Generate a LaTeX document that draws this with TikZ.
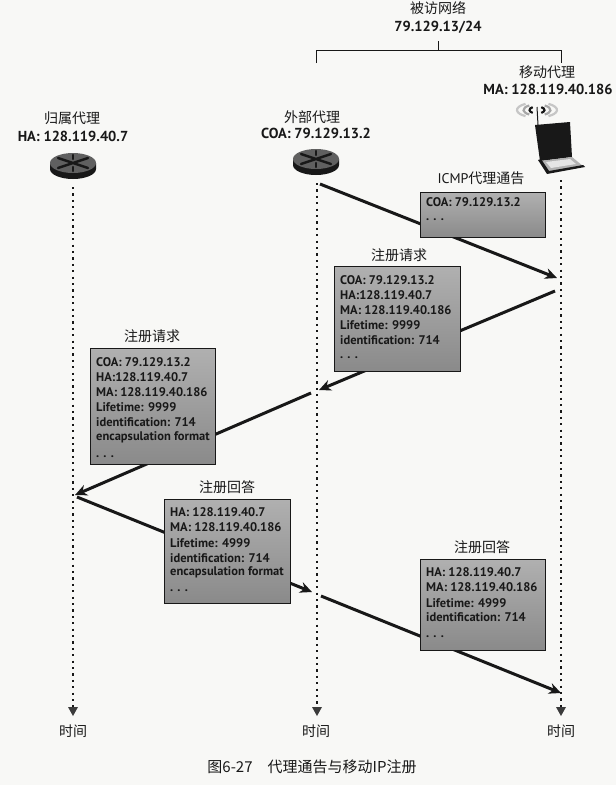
\documentclass[tikz,border=0pt]{standalone}
\usepackage{fontspec}
\setmainfont{PT Sans}
\newfontfamily\cjk{Noto Sans CJK SC}
\usetikzlibrary{arrows.meta,shapes.geometric}
\definecolor{paper}{HTML}{F8F8F6}
\definecolor{ink}{HTML}{181818}
\tikzset{
  x=1pt,y=-1pt,
  lbl/.style={font=\cjk\fontsize{14}{16}\selectfont,text=ink,inner sep=0pt,anchor=center},
  addr/.style={font=\bfseries\fontsize{14.5}{16}\selectfont,text=ink,inner sep=0pt,anchor=center},
  pkt/.style={draw=ink,line width=1.2pt,top color=gray!62,bottom color=gray!92,inner sep=0pt,anchor=north west},
  pkttext/.style={font=\bfseries\fontsize{12.5}{14}\selectfont,text=ink,inner sep=0pt,anchor=west},
  msg/.style={draw=ink,line width=3pt,-{Stealth[length=12pt,width=11pt]}},
  life/.style={draw=ink,line width=2.2pt,dash pattern=on 2.2pt off 4.2pt},
  lifetip/.style={fill=ink!85,draw=none},
  routerpic/.pic={
    \fill[ink] (-23,-3) -- (-23,3) arc[x radius=23,y radius=10,start angle=180,end angle=0] -- (23,-3) -- cycle;
    \fill[gray!75!black] (0,-3) ellipse[x radius=23,y radius=10];
    \draw[ink,line width=2.4pt,line cap=round] (-15,-8) -- (15,2) (-15,2) -- (15,-8);
    \draw[ink,line width=2.4pt,line cap=round] (0,-11) -- (0,-7) (0,1) -- (0,5);
  },
}
\begin{document}
\begin{tikzpicture}
\useasboundingbox[fill=paper] (0,0) rectangle (616,785);

% --- anchors
\coordinate (r1) at (73,166);
\coordinate (r2) at (316,162);
\coordinate (L1s) at (73,187);  \coordinate (L1e) at (73,716);
\coordinate (L2s) at (317,183); \coordinate (L2e) at (317,716);
\coordinate (L3s) at (561,180); \coordinate (L3e) at (561,716);
\coordinate (a1s) at (320,184); \coordinate (a1e) at (557,278);
\coordinate (a2s) at (555,291); \coordinate (a2e) at (319,390);
\coordinate (a3s) at (311,393); \coordinate (a3e) at (75,495);
\coordinate (a4s) at (77,497);  \coordinate (a4e) at (312,592);
\coordinate (a5s) at (321,596); \coordinate (a5e) at (561,693);
\coordinate (brL) at (316,63);  \coordinate (brR) at (561,63);
\coordinate (brC) at (438,50);  \coordinate (brT) at (438,41);

% --- network bracket
\draw[ink,line width=0.9pt] (brL) -- (brL |- brC) -- (brR |- brC) -- (brR);
\draw[ink,line width=0.9pt] (brC) -- (brT);
\node[lbl] (vnet) at (438,8) {被访网络};
\node[addr] (vnetaddr) at (438,27) {79.129.13/24};

% --- lifelines
\foreach \n in {1,2,3}{
  \draw[life] (L\n s) -- ([shift={(0,-9)}]L\n e);
  \fill[lifetip] ([shift={(-5,-9)}]L\n e) -- ([shift={(5,-9)}]L\n e) -- (L\n e) -- cycle;
}

% --- messages (under the packets)
\draw[msg] (a1s) -- (a1e);
\draw[msg] (a2s) -- (a2e);
\draw[msg] (a3s) -- (a3e);
\draw[msg] (a4s) -- (a4e);
\draw[msg] (a5s) -- (a5e);

% --- agents
\pic at (r1) {routerpic};
\pic at (r2) {routerpic};
\node[lbl] (hat) at (72,118) {归属代理};
\node[addr] (haa) at (73,136) {HA: 128.119.40.7};
\node[lbl] (fat) at (312,117) {外部代理};
\node[addr] (faa) at (316,133) {COA: 79.129.13.2};
\node[lbl] (mat) at (547,72) {移动代理};
\node[addr] (maa) at (548,89) {MA: 128.119.40.186};

% --- laptop
\fill[ink] (535,125) -- (570,122) -- (572,157) -- (540,161) -- cycle;
\fill[gray!60] (540,161) -- (572,157) -- (583,166) -- (549,172) -- cycle;
\fill[ink] (538,160) -- (547,174) -- (585,167) -- (583,165) -- (549,171) -- (541,159) -- cycle;
\fill[gray!20] (546,162) -- (570,159) -- (576,164) -- (551,168) -- cycle;
\foreach \a/\b/\g in {20/7.5/gray!45,13.5/5.5/gray!70,7.5/3.5/ink}{
  \draw[\g,line width=2.2pt] (537,110) ++({\a*cos(235)},{\b*sin(235)}) arc[x radius=\a,y radius=\b,start angle=235,end angle=125];
  \draw[\g,line width=2.2pt] (537,110) ++({\a*cos(55)},{-\b*sin(55)}) arc[x radius=\a,y radius=\b,start angle=-55,end angle=55];
}
\draw[ink,line width=1pt] (538,125) -- (537,107);

% --- packets
\node[lbl] (t1) at (481,178) {\normalfont\fontsize{14}{16}\selectfont ICMP\cjk 代理通告};
\node[pkt,minimum width=125pt,minimum height=45pt] (p1) at (420,192) {};
\node[pkttext] at (426,202) {COA: 79.129.13.2};
\node[pkttext] at (426,220) {. . .};

\node[lbl] (t2) at (399,255) {注册请求};
\node[pkt,minimum width=126pt,minimum height=105pt] (p2) at (334,266) {};
\node[pkttext] at (340,280) {COA: 79.129.13.2};
\node[pkttext] at (340,295) {HA:128.119.40.7};
\node[pkttext] at (340,310) {MA: 128.119.40.186};
\node[pkttext] at (340,325) {Lifetime: 9999};
\node[pkttext] at (340,340) {identification: 714};
\node[pkttext] at (340,358) {. . .};

\node[lbl] (t3) at (152,336) {注册请求};
\node[pkt,minimum width=125pt,minimum height=116pt] (p3) at (90,348) {};
\node[pkttext] at (96,362) {COA: 79.129.13.2};
\node[pkttext] at (96,377) {HA:128.119.40.7};
\node[pkttext] at (96,392) {MA: 128.119.40.186};
\node[pkttext] at (96,407) {Lifetime: 9999};
\node[pkttext] at (96,422) {identification: 714};
\node[pkttext] at (96,437) {encapsulation format};
\node[pkttext] at (96,457) {. . .};

\node[lbl] (t4) at (227,487) {注册回答};
\node[pkt,minimum width=126pt,minimum height=104pt] (p4) at (164,499) {};
\node[pkttext] at (170,512) {HA: 128.119.40.7};
\node[pkttext] at (170,527) {MA: 128.119.40.186};
\node[pkttext] at (170,543) {Lifetime: 4999};
\node[pkttext] at (170,558) {identification: 714};
\node[pkttext] at (170,572) {encapsulation format};
\node[pkttext] at (170,591) {. . .};

\node[lbl] (t5) at (482,547) {注册回答};
\node[pkt,minimum width=125pt,minimum height=91pt] (p5) at (420,559) {};
\node[pkttext] at (426,572) {HA: 128.119.40.7};
\node[pkttext] at (426,587) {MA: 128.119.40.186};
\node[pkttext] at (426,603) {Lifetime: 4999};
\node[pkttext] at (426,617) {identification: 714};
\node[pkttext] at (426,637) {. . .};

% --- time labels and caption
\node[lbl] (s1) at (73,731) {时间};
\node[lbl] (s2) at (316,731) {时间};
\node[lbl] (s3) at (561,731) {时间};
\node[lbl,font=\cjk\fontsize{15}{17}\selectfont] (cap) at (312,767) {图6-27\quad 代理通告与移动IP注册};
\end{tikzpicture}
\end{document}
